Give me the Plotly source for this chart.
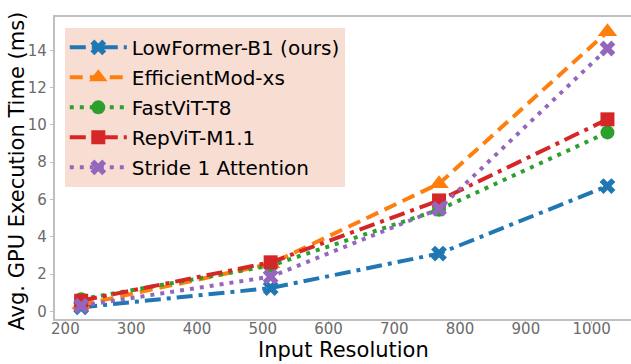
import plotly.graph_objects as go

resolutions = [224, 512, 768, 1024]
lowformer = [0.22, 1.25, 3.1, 6.72]
efficientmod = [0.35, 2.55, 6.85, 15.0]
fastvit = [0.65, 2.45, 5.45, 9.6]
repvit = [0.57, 2.63, 5.95, 10.3]
stride1 = [0.3, 1.86, 5.5, 14.1]

names = ["LowFormer-B1 (ours)", "EfficientMod-xs", "FastViT-T8", "RepViT-M1.1", "Stride 1 Attention"]
series = [lowformer, efficientmod, fastvit, repvit, stride1]
colors = ["#1f77b4", "#ff7f0e", "#2ca02c", "#d62728", "#9467bd"]
dashes = ["16px,6px,4px,6px", "13px,7px", "4px,6px", "16px,6px,4px,6px", "4px,6px"]
symbols = ["x", "triangle-up", "circle", "square", "x"]
sizes = [14, 17, 14, 14, 14]

fig = go.Figure()
for i, (n, ys, c, d, s, sz) in enumerate(zip(names, series, colors, dashes, symbols, sizes)):
    fig.add_trace(go.Scatter(
        x=resolutions, y=ys, name=n, mode="lines+markers", legendgroup=f"g{i}",
        line=dict(color=c, width=4, dash=d),
        marker=dict(symbol=s, size=sz, color=c, line=dict(width=0)),
    ))

tick_font = dict(family="DejaVu Sans", size=15, color="#6b6b6b")
fig.update_layout(
    width=631, height=364,
    margin=dict(l=55, r=0, t=17, b=45, autoexpand=False),
    plot_bgcolor="white", paper_bgcolor="white",
    font=dict(family="DejaVu Sans", color="black"),
    showlegend=True,
    hovermode=False,
    legend=dict(
        x=0.017, y=0.964, xanchor="left", yanchor="top",
        bgcolor="#f8ddd3", borderwidth=0, tracegroupgap=1,
        font=dict(family="DejaVu Sans", size=20, color="black"),
        itemwidth=57,
    ),
    xaxis=dict(
        range=[184.2, 1059.8], tickvals=[200, 300, 400, 500, 600, 700, 800, 900, 1000],
        showgrid=False, zeroline=False, showline=True, linecolor="#bfbfbf", linewidth=1.5,
        mirror=True, ticks="outside", ticklen=3.5, tickcolor="#bfbfbf", tickfont=tick_font,
        ticklabelstandoff=-8,
        automargin=False,
    ),
    yaxis=dict(
        range=[-0.41, 15.79], tickvals=[0, 2, 4, 6, 8, 10, 12, 14],
        showgrid=False, zeroline=False, showline=True, linecolor="#bfbfbf", linewidth=1.5,
        ticks="outside", ticklen=3.5, tickcolor="#bfbfbf", tickfont=tick_font,
        automargin=False,
    ),
    annotations=[
        dict(text="Input Resolution", xref="paper", yref="paper", x=0.5, y=-0.104,
             xanchor="center", yanchor="middle", showarrow=False,
             font=dict(family="DejaVu Sans", size=21, color="black")),
        dict(text="Avg. GPU Execution Time (ms)", xref="paper", yref="paper", x=-0.0668, y=0.49,
             xanchor="center", yanchor="middle", textangle=-90, showarrow=False,
             font=dict(family="DejaVu Sans", size=21, color="black")),
    ],
)

fig.write_html("out.html", config={"displayModeBar": False},
               post_script="document.body.style.margin='0';")
